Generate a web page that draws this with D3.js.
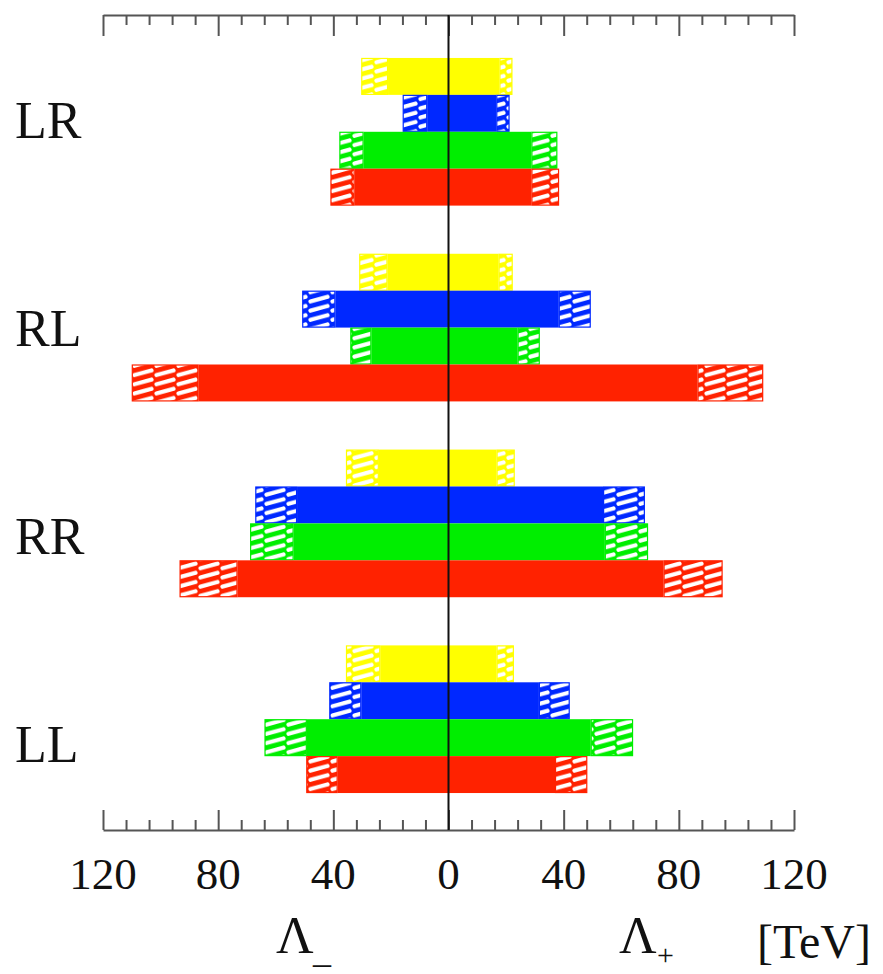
<!DOCTYPE html>
<html>
<head>
<meta charset="utf-8">
<script src="https://cdn.jsdelivr.net/npm/d3@7"></script>
<style>
  html, body { margin: 0; padding: 0; background: #fff; }
  svg { display: block; }
  text { font-family: "Liberation Serif", "DejaVu Serif", serif; fill: #111; }
</style>
</head>
<body>
<script>
// ---------- data ----------
const groups = ["LR", "RL", "RR", "LL"];              // top to bottom
const seriesColors = ["#ffff00", "#0028ff", "#00ee00", "#ff2200"]; // order inside each group, top to bottom
const seriesIds = ["s1", "s2", "s3", "s4"];

// Λ- (left side), solid part and hatched outer limit [TeV]; rows = groups, columns = series
const minusSolid = [
  [21.0,  7.4, 29.5, 32.6],
  [21.2, 39.3, 26.8, 86.8],
  [24.2, 52.6, 53.8, 73.3],
  [23.7, 30.3, 49.2, 38.5]
];
const minusHatch = [
  [30.3, 15.9, 37.9, 41.0],
  [31.0, 50.8, 34.1, 110.0],
  [35.6, 67.1, 68.9, 93.4],
  [35.6, 41.4, 63.9, 49.4]
];
// Λ+ (right side)
const plusSolid = [
  [17.7, 16.6, 28.8, 28.8],
  [17.4, 38.3, 24.0, 86.5],
  [16.7, 53.7, 54.3, 74.7],
  [16.7, 31.4, 49.4, 37.0]
];
const plusHatch = [
  [22.2, 21.2, 37.8, 38.4],
  [22.3, 49.4, 31.7, 109.3],
  [23.0, 68.2, 69.3, 95.2],
  [22.7, 42.1, 64.1, 48.2]
];
const majorTicks = [-120, -80, -40, 0, 40, 80, 120];
const minorStep = 8;

// ---------- layout ----------
const W = 883, H = 974;
const svg = d3.select("body").append("svg").attr("width", W).attr("height", H);

const x = d3.scaleLinear().domain([-120, 120]).range([103, 794]);
const yTop = 15, yBot = 830;
const yGroup = d3.scaleBand().domain(groups).range([19, 832]).paddingInner(0.246).paddingOuter(0.199);
const ySeries = d3.scaleBand().domain(seriesIds).range([0, yGroup.bandwidth()]).padding(0);
const yLabel = d3.scalePoint().domain(groups).range([121, 745]);

// hatch patterns
const defs = svg.append("defs");
seriesColors.forEach((c, i) => {
  const p = defs.append("pattern")
    .attr("id", "hatch" + i)
    .attr("patternUnits", "userSpaceOnUse")
    .attr("width", 22).attr("height", 9.2);
  p.append("rect").attr("width", 22).attr("height", 9.2).attr("fill", c);
  p.append("line")
    .attr("x1", 2.5).attr("y1", 7.0).attr("x2", 19.5).attr("y2", 2.4)
    .attr("stroke", "#fff").attr("stroke-width", 4.2).attr("stroke-linecap", "round");
});

// bars
const rows = [];
groups.forEach((g, gi) => {
  seriesIds.forEach((s, si) => {
    rows.push({
      g, s, si,
      mS: minusSolid[gi][si], mH: minusHatch[gi][si],
      pS: plusSolid[gi][si], pH: plusHatch[gi][si]
    });
  });
});

const bars = svg.append("g");
rows.forEach(d => {
  const y0 = yGroup(d.g) + ySeries(d.s);
  const h = ySeries.bandwidth();
  const c = seriesColors[d.si];
  // solid
  bars.append("rect")
    .attr("x", x(-d.mS)).attr("y", y0)
    .attr("width", x(d.pS) - x(-d.mS)).attr("height", h)
    .attr("fill", c);
  // hatched left
  bars.append("rect")
    .attr("x", x(-d.mH) + 0.5).attr("y", y0 + 0.5)
    .attr("width", x(-d.mS) - x(-d.mH) - 1).attr("height", h - 1)
    .attr("fill", "url(#hatch" + d.si + ")")
    .attr("stroke", c).attr("stroke-width", 1.2);
  // hatched right
  bars.append("rect")
    .attr("x", x(d.pS) + 0.5).attr("y", y0 + 0.5)
    .attr("width", x(d.pH) - x(d.pS) - 1).attr("height", h - 1)
    .attr("fill", "url(#hatch" + d.si + ")")
    .attr("stroke", c).attr("stroke-width", 1.2);
});

// axes
const minorTicks = d3.range(-120, 120 + 0.001, minorStep).filter(v => !majorTicks.includes(v));
const axisColor = "#555";

const topAxis = d3.axisBottom(x).tickValues(majorTicks).tickSize(21).tickFormat("").tickSizeOuter(0);
const topMinor = d3.axisBottom(x).tickValues(minorTicks).tickSize(10).tickFormat("").tickSizeOuter(0);
const botAxis = d3.axisTop(x).tickValues(majorTicks).tickSize(20).tickFormat("").tickSizeOuter(0);
const botMinor = d3.axisTop(x).tickValues(minorTicks).tickSize(10).tickFormat("").tickSizeOuter(0);

function styleAxis(sel) {
  sel.selectAll("path, line").attr("stroke", axisColor).attr("stroke-width", 2);
}
svg.append("g").attr("transform", `translate(0,${yTop})`).call(topAxis).call(styleAxis);
svg.append("g").attr("transform", `translate(0,${yTop})`).call(topMinor).call(styleAxis).select(".domain").remove();
svg.append("g").attr("transform", `translate(0,${yBot})`).call(botAxis).call(styleAxis);
svg.append("g").attr("transform", `translate(0,${yBot})`).call(botMinor).call(styleAxis).select(".domain").remove();

// zero line
svg.append("line")
  .attr("x1", x(0)).attr("x2", x(0)).attr("y1", yTop).attr("y2", yBot)
  .attr("stroke", "#111").attr("stroke-width", 2);

// tick labels
svg.append("g").selectAll("text").data(majorTicks).join("text")
  .attr("x", d => x(d)).attr("y", 889)
  .attr("text-anchor", "middle")
  .attr("font-size", 45)
  .text(d => Math.abs(d));

// group labels
svg.append("g").selectAll("text").data(groups).join("text")
  .attr("x", 15)
  .attr("y", d => yLabel(d) + 17)
  .attr("font-size", 52)
  .text(d => d);

// axis titles
svg.append("text").attr("x", 276).attr("y", 953).attr("font-size", 52).text("Λ");
svg.append("text").attr("x", 313).attr("y", 962).attr("font-size", 36).text("_");
svg.append("text").attr("x", 319 + 338).attr("y", 965).attr("font-size", 30).text("+");
svg.append("text").attr("x", 619).attr("y", 953).attr("font-size", 52).text("Λ");

svg.append("text").attr("x", 757).attr("y", 958).attr("font-size", 48).text("[TeV]");
</script>
</body>
</html>
